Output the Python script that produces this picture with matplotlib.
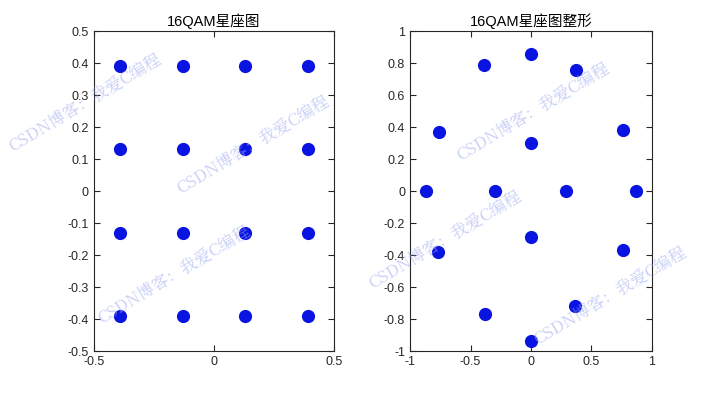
"""Two-panel 16QAM constellation figure (plain and shaped)."""

import matplotlib

matplotlib.use("Agg")

import matplotlib.pyplot as plt
from matplotlib.ticker import FormatStrFormatter


# cluster centres
qam_i = [-0.39, -0.13, 0.13, 0.39] * 4
qam_q = [0.39] * 4 + [0.13] * 4 + [-0.13] * 4 + [-0.39] * 4

# cluster centres
shaped_i = [0.0, -0.39, 0.37, -0.76, 0.76, 0.0, -0.87, -0.30,
            0.29, 0.87, -0.77, 0.0, 0.76, -0.38, 0.36, 0.0]
shaped_q = [0.86, 0.79, 0.76, 0.37, 0.38, 0.30, 0.0, 0.0,
            0.0, 0.0, -0.38, -0.29, -0.37, -0.77, -0.72, -0.94]

titles = ["16QAM星座图", "16QAM星座图整形"]
left_xticks = [-0.5, 0, 0.5]
left_yticks = [-0.5, -0.4, -0.3, -0.2, -0.1, 0, 0.1, 0.2, 0.3, 0.4, 0.5]
right_xticks = [-1, -0.5, 0, 0.5, 1]
right_yticks = [-1, -0.8, -0.6, -0.4, -0.2, 0, 0.2, 0.4, 0.6, 0.8, 1]

watermark = "CSDN博客：我爱C编程"
# watermark centres in figure fractions
mark_x = [0.118, 0.350, 0.240, 0.738, 0.616, 0.845]
mark_y = [0.741, 0.632, 0.302, 0.716, 0.391, 0.251]

FONTS = ["Liberation Sans", "Noto Sans CJK SC", "DejaVu Sans"]
plt.rcParams["font.family"] = FONTS
plt.rcParams["axes.unicode_minus"] = False


def style_axis(axis, xticks, yticks):
    axis.set_xticks(xticks)
    axis.set_yticks(yticks)
    axis.xaxis.set_major_formatter(FormatStrFormatter("%g"))
    axis.yaxis.set_major_formatter(FormatStrFormatter("%g"))
    axis.tick_params(direction="in", length=4, width=0.8,
                     top=True, right=True, labelsize=9,
                     colors="#262626")
    for spine in axis.spines.values():
        spine.set_linewidth(0.8)
        spine.set_color("#262626")


def main() -> None:
    figure = plt.figure(figsize=(7.22, 3.94), dpi=100, facecolor="white")

    left = figure.add_axes([0.130, 0.109, 0.333, 0.812])
    right = figure.add_axes([0.568, 0.109, 0.335, 0.812])

    left.plot(qam_i, qam_q, "o", color="#0a14e0", markersize=9.5,
              markeredgewidth=0)
    left.set_xlim(-0.5, 0.5)
    left.set_ylim(-0.5, 0.5)
    style_axis(left, left_xticks, left_yticks)
    left.set_title(titles[0], fontsize=10.5, pad=4)

    right.plot(shaped_i, shaped_q, "o", color="#0a14e0", markersize=9.5,
               markeredgewidth=0)
    right.set_xlim(-1, 1)
    right.set_ylim(-1, 1)
    style_axis(right, right_xticks, right_yticks)
    right.set_title(titles[1], fontsize=10.5, pad=4)

    for x, y in zip(mark_x, mark_y):
        figure.text(x, y, watermark, rotation=31, fontsize=12,
                    color="#9aa8ee", alpha=0.55, ha="center",
                    va="center", family=["Noto Serif CJK SC",
                                         "Noto Sans CJK SC",
                                         "DejaVu Sans"])

    figure.savefig("out.png", dpi=100, facecolor="white")
    plt.close(figure)


if __name__ == "__main__":
    main()
